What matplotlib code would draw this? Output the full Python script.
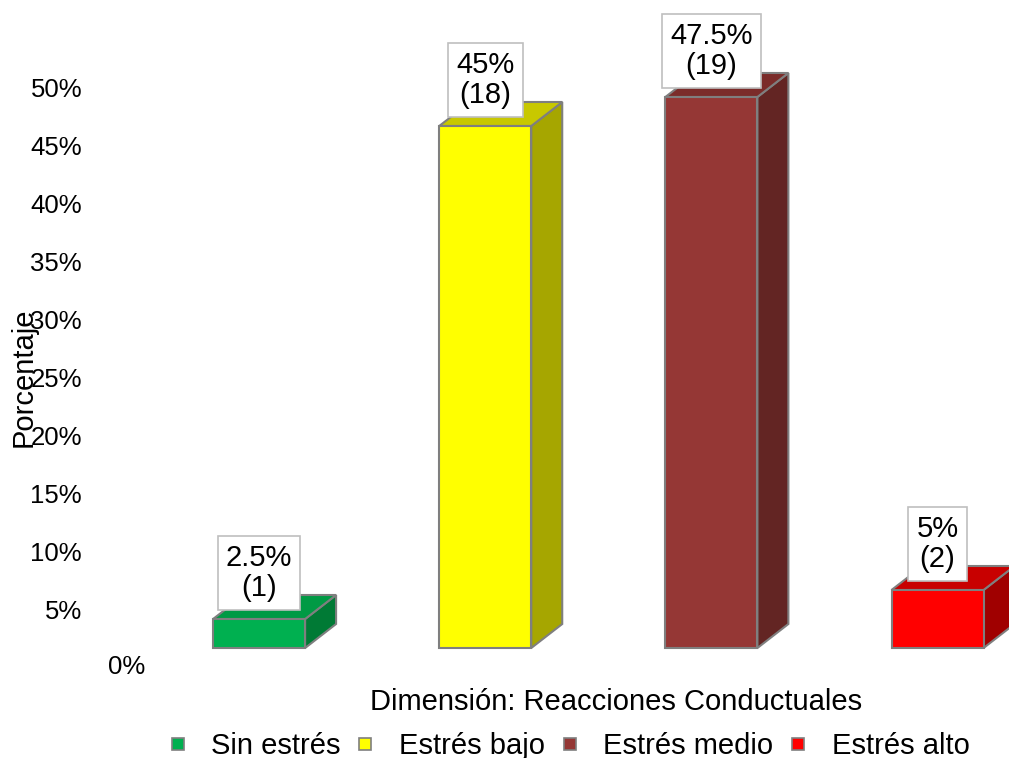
import matplotlib.pyplot as plt
from matplotlib.patches import Polygon
from matplotlib.lines import Line2D

plt.rcParams['font.family'] = ['Liberation Sans', 'DejaVu Sans']

categorias = ["Sin estrés", "Estrés bajo", "Estrés medio", "Estrés alto"]
porcentajes = [2.5, 45, 47.5, 5]
frecuencias = [1, 18, 19, 2]
ticks_valores = [5, 10, 15, 20, 25, 30, 35, 40, 45, 50]
ticks_etiquetas = ["5%", "10%", "15%", "20%", "25%", "30%", "35%", "40%", "45%", "50%"]

# front, top, side shades for each bar
col_frente = ["#00b050", "#ffff00", "#953735", "#ff0000"]
col_arriba = ["#009a44", "#c8c800", "#7b2c2a", "#c80000"]
col_lado = ["#007a35", "#a6a600", "#632523", "#a00000"]

fig = plt.figure(figsize=(10.09, 7.58), dpi=100)
ax = fig.add_axes([0.1447, 0.1451, 0.8553, 0.8417])
ax.set_xlim(-0.5, 3.316)
ax.set_ylim(0, 55)

ancho = 0.407   # front face width
dx = 0.137      # depth offset (x units)
dy = 2.07       # depth offset (percent units)
borde = "#7f7f7f"

for i, v in enumerate(porcentajes):
    x0 = i - ancho / 2
    x1 = x0 + ancho
    lado = Polygon([(x1, 0), (x1 + dx, dy), (x1 + dx, v + dy), (x1, v)],
                   closed=True, facecolor=col_lado[i], edgecolor=borde, lw=1.5, zorder=2)
    arriba = Polygon([(x0, v), (x0 + dx, v + dy), (x1 + dx, v + dy), (x1, v)],
                     closed=True, facecolor=col_arriba[i], edgecolor=borde, lw=1.5, zorder=2)
    frente = Polygon([(x0, 0), (x0, v), (x1, v), (x1, 0)],
                     closed=True, facecolor=col_frente[i], edgecolor=borde, lw=1.5, zorder=3)
    for p in (lado, arriba, frente):
        p.set_clip_on(False)
        ax.add_patch(p)
    ax.text(i, v + 3.97, f"{v:g}%\n({frecuencias[i]})", ha="center", va="center",
            fontsize=21, linespacing=1.1, zorder=5,
            bbox=dict(boxstyle="square,pad=0.28", facecolor="white", edgecolor="#bfbfbf", lw=1.2))

# y ticks sit slightly below the bar baseline
desfase = -1.64
ax.set_yticks([t + desfase for t in ticks_valores])
ax.set_yticklabels(ticks_etiquetas, fontsize=18.5)
ax.tick_params(axis="y", length=0, pad=46)
ax.set_xticks([])
ax.text(-0.001, desfase, "0%", transform=ax.get_yaxis_transform(), fontsize=18.5,
        ha="right", va="center")
for s in ax.spines.values():
    s.set_visible(False)

fig.text(24 / 1009, 1 - 377 / 758, "Porcentaje", rotation=90, fontsize=21,
         ha="center", va="center")
fig.text(616 / 1009, 1 - 702 / 758, "Dimensión: Reacciones Conductuales", fontsize=21,
         ha="center", va="center")

manijas = [Line2D([], [], ls="none", marker="s", markersize=8.5, markerfacecolor=c,
                  markeredgecolor=borde, markeredgewidth=1.2) for c in col_frente]
fig.legend(manijas, categorias, loc="center", bbox_to_anchor=(570 / 1009, 1 - 746 / 758),
           ncol=4, frameon=False, fontsize=21, handlelength=0.5, handletextpad=0.9,
           columnspacing=0.6, borderpad=0, borderaxespad=0)

fig.savefig("out.png", dpi=100)
